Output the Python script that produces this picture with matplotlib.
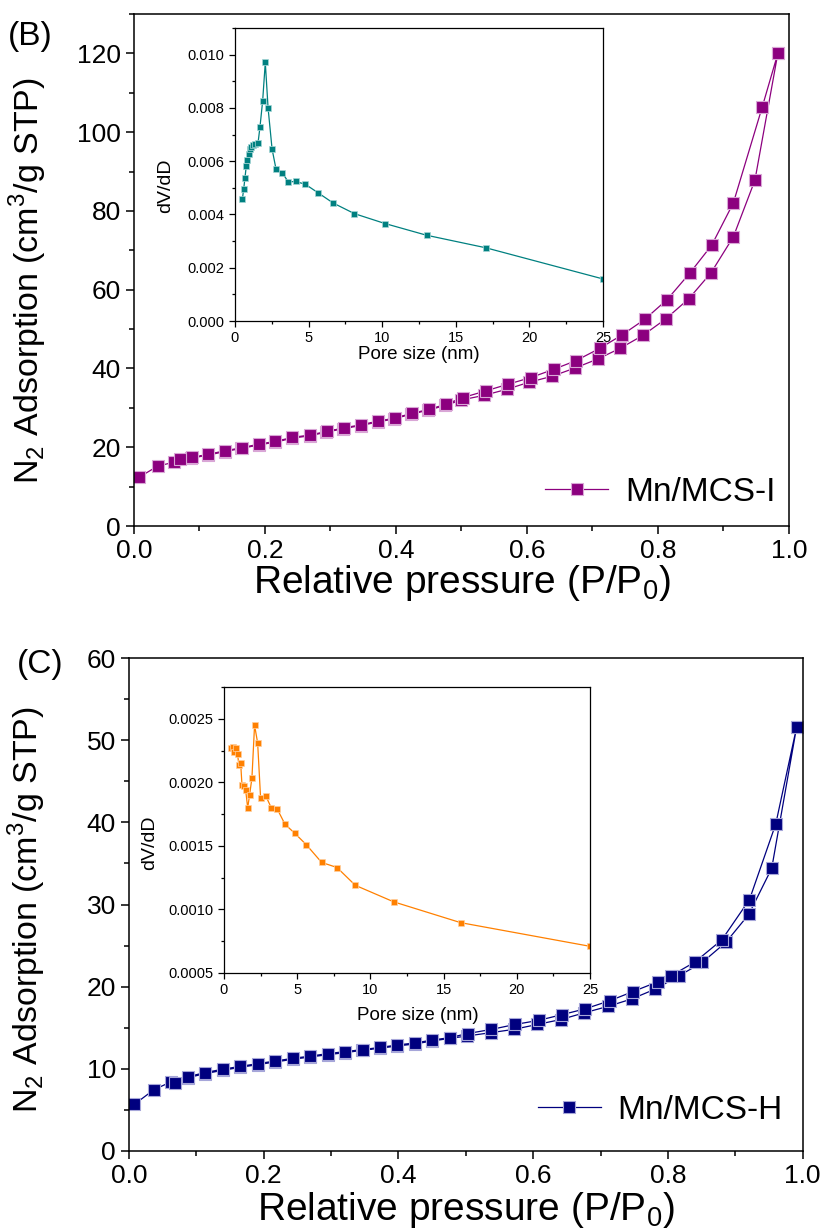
import numpy as np
import matplotlib
matplotlib.use("Agg")
import matplotlib.pyplot as plt
from matplotlib.ticker import MultipleLocator, FormatStrFormatter

plt.rcParams['font.family'] = ['Liberation Sans', 'DejaVu Sans']
plt.rcParams['mathtext.fontset'] = 'custom'
plt.rcParams['mathtext.rm'] = 'Liberation Sans'

# panel B isotherm (Mn/MCS-I)
p_ads_b = [0.008, 0.036, 0.061, 0.087, 0.113, 0.139, 0.164, 0.191, 0.216, 0.242, 0.268,
           0.293, 0.319, 0.346, 0.372, 0.397, 0.423, 0.449, 0.475, 0.500, 0.535, 0.569,
           0.603, 0.638, 0.673, 0.708, 0.742, 0.777, 0.812, 0.847, 0.881, 0.915, 0.948, 0.983]
v_ads_b = [12.4, 15.2, 16.2, 17.2, 18.0, 18.9, 19.7, 20.6, 21.3, 22.3, 22.9,
           23.8, 24.7, 25.5, 26.4, 27.2, 28.4, 29.4, 30.6, 32.0, 33.2, 34.7,
           36.5, 38.0, 40.1, 42.4, 45.1, 48.4, 52.6, 57.7, 64.3, 73.4, 87.8, 120.0]
p_des_b = [0.983, 0.959, 0.915, 0.882, 0.849, 0.814, 0.780, 0.745, 0.711, 0.675, 0.641,
           0.606, 0.571, 0.537, 0.502, 0.476, 0.450, 0.424, 0.398, 0.372, 0.346, 0.320,
           0.294, 0.268, 0.242, 0.216, 0.191, 0.165, 0.139, 0.113, 0.088, 0.070]
v_des_b = [120.0, 106.3, 82.0, 71.3, 64.3, 57.5, 52.5, 48.5, 45.1, 42.0, 39.8,
           37.7, 36.0, 34.3, 32.6, 30.9, 29.6, 28.6, 27.4, 26.6, 25.7, 24.9,
           24.0, 23.1, 22.5, 21.5, 20.8, 19.9, 19.1, 18.2, 17.4, 16.9]

# panel B inset (pore size distribution)
d_b = [0.50, 0.59, 0.68, 0.77, 0.84, 0.93, 1.02, 1.11, 1.25, 1.38, 1.57, 1.70, 1.88,
       2.06, 2.25, 2.52, 2.79, 3.20, 3.63, 4.13, 4.79, 5.63, 6.67, 8.12, 10.19,
       13.02, 17.04, 25.0]
dvdd_b = [4.57e-3, 4.94e-3, 5.38e-3, 5.83e-3, 6.05e-3, 6.26e-3, 6.45e-3, 6.55e-3,
          6.60e-3, 6.65e-3, 6.70e-3, 7.29e-3, 8.26e-3, 9.71e-3, 7.99e-3, 6.46e-3,
          5.70e-3, 5.57e-3, 5.22e-3, 5.24e-3, 5.13e-3, 4.82e-3, 4.43e-3, 4.03e-3,
          3.66e-3, 3.22e-3, 2.75e-3, 1.58e-3]

# panel C isotherm (Mn/MCS-H)
p_ads_c = [0.008, 0.037, 0.062, 0.087, 0.113, 0.139, 0.165, 0.191, 0.217, 0.243, 0.269,
           0.295, 0.321, 0.346, 0.372, 0.398, 0.424, 0.450, 0.476, 0.502, 0.537, 0.571,
           0.606, 0.641, 0.675, 0.711, 0.746, 0.781, 0.816, 0.851, 0.886, 0.920, 0.954, 0.991]
v_ads_c = [5.68, 7.46, 8.40, 8.92, 9.41, 9.82, 10.18, 10.51, 10.83, 11.16, 11.44,
           11.72, 11.97, 12.25, 12.50, 12.78, 13.02, 13.39, 13.7, 14.0, 14.4, 14.8,
           15.4, 16.0, 16.8, 17.6, 18.5, 19.7, 21.3, 22.96, 25.4, 28.8, 34.4, 51.6]
p_des_c = [0.991, 0.960, 0.921, 0.880, 0.840, 0.804, 0.785, 0.748, 0.714, 0.677, 0.643,
           0.608, 0.573, 0.538, 0.503, 0.476, 0.450, 0.424, 0.398, 0.372, 0.347, 0.321,
           0.295, 0.269, 0.243, 0.217, 0.191, 0.165, 0.139, 0.113, 0.088, 0.069]
v_des_c = [51.6, 39.8, 30.6, 25.7, 23.0, 21.3, 20.6, 19.4, 18.3, 17.3, 16.6,
           15.9, 15.4, 14.8, 14.3, 13.8, 13.5, 13.15, 12.9, 12.6, 12.35, 12.1,
           11.85, 11.55, 11.28, 10.95, 10.63, 10.3, 9.95, 9.55, 9.05, 8.32]

# panel C inset
d_c = [0.50, 0.64, 0.71, 0.82, 0.93, 1.02, 1.14, 1.23, 1.37, 1.48, 1.62, 1.75, 1.91,
       2.09, 2.30, 2.50, 2.87, 3.23, 3.64, 4.17, 4.83, 5.62, 6.67, 7.72, 8.97,
       11.59, 16.17, 25.0]
dvdd_c = [2.27e-3, 2.28e-3, 2.24e-3, 2.27e-3, 2.22e-3, 2.135e-3, 2.15e-3, 1.98e-3,
          1.97e-3, 1.94e-3, 1.80e-3, 1.90e-3, 2.035e-3, 2.45e-3, 2.31e-3, 1.88e-3,
          1.89e-3, 1.80e-3, 1.79e-3, 1.67e-3, 1.60e-3, 1.51e-3, 1.37e-3, 1.33e-3,
          1.19e-3, 1.06e-3, 0.896e-3, 0.71e-3]

purple = '#8c007f'
teal = '#008080'
navy = '#00007f'
orange = '#ff8000'

fig = plt.figure(figsize=(8.21, 12.29), dpi=100)


def style_main(ax):
    for s in ax.spines.values():
        s.set_linewidth(1.1)
    ax.tick_params(which='major', direction='out', length=6, width=1.1, labelsize=19,
                   top=False, right=False)
    ax.tick_params(which='minor', direction='out', length=3.5, width=1.1,
                   top=False, right=False)
    ax.xaxis.set_major_locator(MultipleLocator(0.2))
    ax.xaxis.set_minor_locator(MultipleLocator(0.1))
    ax.xaxis.set_major_formatter(FormatStrFormatter('%.1f'))
    ax.set_xlim(0, 1.0)


def style_inset(ax):
    for s in ax.spines.values():
        s.set_linewidth(0.9)
    ax.tick_params(which='major', direction='out', length=4, width=0.9, labelsize=10.5,
                   top=False, right=False)
    ax.tick_params(which='minor', direction='out', length=2.5, width=0.9,
                   top=False, right=False)
    ax.xaxis.set_major_locator(MultipleLocator(5))
    ax.xaxis.set_minor_locator(MultipleLocator(2.5))
    ax.set_xlim(0, 25)
    ax.set_xlabel('Pore size (nm)', fontsize=13.5)


# ---- panel B ----
ax1 = fig.add_axes([0.1632, 0.5720, 0.7978, 0.4166])
style_main(ax1)
ax1.plot(p_ads_b + p_des_b, v_ads_b + v_des_b, '-s', color=purple, lw=0.9,
         ms=9, mec='#d9a6d6', mew=0.8, label='Mn/MCS-I')
ax1.set_ylim(0, 130)
ax1.yaxis.set_major_locator(MultipleLocator(20))
ax1.yaxis.set_minor_locator(MultipleLocator(10))
ax1.set_xlabel('Relative pressure (P/P$_0$)', fontsize=28)
ax1.set_ylabel('N$_2$ Adsorption (cm$^3$/g STP)', fontsize=24.5)
ax1.xaxis.set_label_coords(0.5, -0.072)
ax1.yaxis.set_label_coords(-0.13, 0.48)
ax1.legend(loc='center right', bbox_to_anchor=(1.025, 0.066), frameon=False,
           fontsize=24, handlelength=1.9, handletextpad=0.5, numpoints=1)
fig.text(0.037, 0.970, '(B)', fontsize=24, ha='center', va='center')

ins1 = fig.add_axes([0.2862, 0.7388, 0.4482, 0.2384])
style_inset(ins1)
ins1.plot(d_b, dvdd_b, '-s', color=teal, lw=0.9, ms=5, mec='#a6d6d6', mew=0.5)
ins1.set_ylim(0, 0.011)
ins1.yaxis.set_major_locator(MultipleLocator(0.002))
ins1.yaxis.set_minor_locator(MultipleLocator(0.001))
ins1.yaxis.set_major_formatter(FormatStrFormatter('%.3f'))
ins1.set_ylabel('dV/dD', fontsize=14)
ins1.yaxis.set_label_coords(-0.165, 0.46)
ins1.xaxis.set_label_coords(0.5, -0.085)

# ---- panel C ----
ax2 = fig.add_axes([0.1571, 0.06347, 0.8206, 0.4011])
style_main(ax2)
ax2.plot(p_ads_c + p_des_c, v_ads_c + v_des_c, '-s', color=navy, lw=0.9,
         ms=9, mec='#a6a6d9', mew=0.8, label='Mn/MCS-H')
ax2.set_ylim(0, 60)
ax2.yaxis.set_major_locator(MultipleLocator(10))
ax2.yaxis.set_minor_locator(MultipleLocator(5))
ax2.set_xlabel('Relative pressure (P/P$_0$)', fontsize=28)
ax2.set_ylabel('N$_2$ Adsorption (cm$^3$/g STP)', fontsize=24.5)
ax2.xaxis.set_label_coords(0.5, -0.08)
ax2.yaxis.set_label_coords(-0.12, 0.49)
ax2.legend(loc='center right', bbox_to_anchor=(1.015, 0.083), frameon=False,
           fontsize=24, handlelength=1.9, handletextpad=0.5, numpoints=1)
fig.text(0.049, 0.459, '(C)', fontsize=24, ha='center', va='center')

ins2 = fig.add_axes([0.2728, 0.2083, 0.4458, 0.2327])
style_inset(ins2)
ins2.plot(d_c, dvdd_c, '-s', color=orange, lw=0.9, ms=5, mec='#ffd0a0', mew=0.5)
ins2.set_ylim(0.0005, 0.00275)
ins2.yaxis.set_major_locator(MultipleLocator(0.0005))
ins2.yaxis.set_minor_locator(MultipleLocator(0.00025))
ins2.yaxis.set_major_formatter(FormatStrFormatter('%.4f'))
ins2.set_ylabel('dV/dD', fontsize=14)
ins2.yaxis.set_label_coords(-0.18, 0.455)
ins2.xaxis.set_label_coords(0.53, -0.119)

fig.savefig('out.png', dpi=100)
